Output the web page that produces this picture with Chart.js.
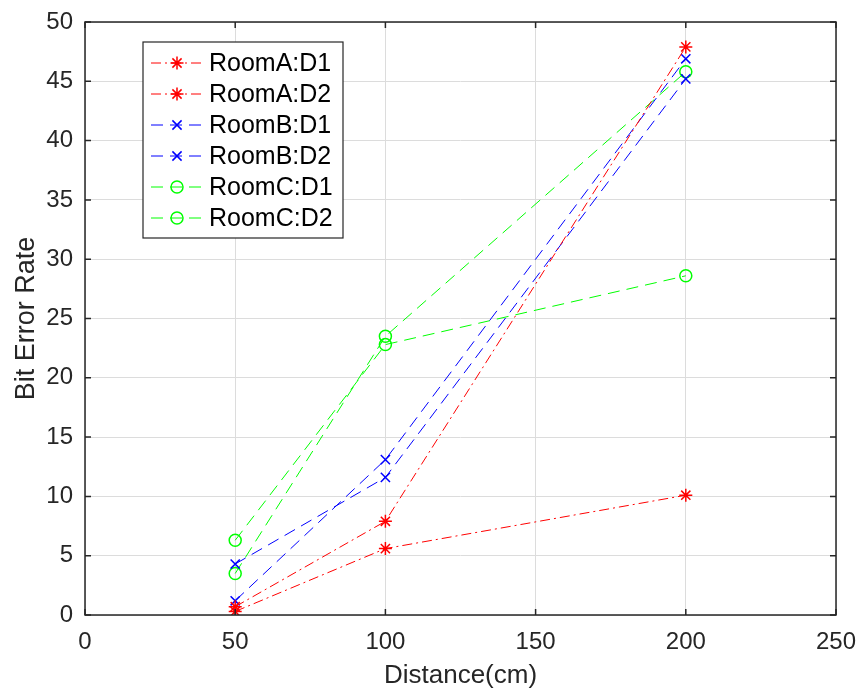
<!DOCTYPE html>
<html>
<head>
<meta charset="utf-8">
<script src="https://cdn.jsdelivr.net/npm/chart.js@4/dist/chart.umd.min.js"></script>
<style>
  body { margin: 0; background: #fff; }
  #wrap { width: 863px; height: 691px; }
</style>
</head>
<body>
<div id="wrap"><canvas id="chart1Canvas" width="863" height="691"></canvas></div>
<script>
// distances on x axis (cm)
const distances = [50, 100, 200];
// bit error rate for each room / device
const roomA_D1 = [0.7, 7.9, 47.9];
const roomA_D2 = [0.3, 5.6, 10.1];
const roomB_D1 = [4.3, 11.6, 45.2];
const roomB_D2 = [1.2, 13.1, 46.9];
const roomC_D1 = [6.3, 22.8, 28.6];
const roomC_D2 = [3.5, 23.5, 45.8];
const seriesLabels = ['RoomA:D1', 'RoomA:D2', 'RoomB:D1', 'RoomB:D2', 'RoomC:D1', 'RoomC:D2'];
const xTicks = [0, 50, 100, 150, 200, 250];
const yTicks = [0, 5, 10, 15, 20, 25, 30, 35, 40, 45, 50];

const FONT = '"Liberation Sans", Arial, Helvetica, sans-serif';
const RED = '#ff0000', BLUE = '#0000ff', GREEN = '#00ff00';

function series(label, vals, color, dash, marker, radius) {
  return {
    label: label,
    data: distances.map((d, i) => ({ x: d, y: vals[i] })),
    borderColor: color,
    backgroundColor: 'rgba(0,0,0,0)',
    borderWidth: 1,
    borderDash: dash,
    pointStyle: marker,
    pointRadius: radius,
    pointBorderColor: color,
    pointBorderWidth: 1.5,
    pointBackgroundColor: 'rgba(0,0,0,0)',
    tension: 0
  };
}

const dashDot = [10, 4, 2, 4];
const dashed = [12, 7];

// frame, inward ticks and the boxed legend like matlab
const matlabAxes = {
  id: 'matlabAxes',
  afterDraw(chart) {
    const ctx = chart.ctx;
    const a = chart.chartArea;
    const xs = chart.scales.x, ys = chart.scales.y;
    ctx.save();
    ctx.strokeStyle = '#262626';
    ctx.lineWidth = 1.5;
    ctx.strokeRect(a.left, a.top, a.right - a.left, a.bottom - a.top);
    ctx.beginPath();
    const tl = 6;
    xTicks.forEach(v => {
      const px = xs.getPixelForValue(v);
      ctx.moveTo(px, a.bottom); ctx.lineTo(px, a.bottom - tl);
      ctx.moveTo(px, a.top); ctx.lineTo(px, a.top + tl);
    });
    yTicks.forEach(v => {
      const py = ys.getPixelForValue(v);
      ctx.moveTo(a.left, py); ctx.lineTo(a.left + tl, py);
      ctx.moveTo(a.right, py); ctx.lineTo(a.right - tl, py);
    });
    ctx.stroke();

    // legend box
    const lx = 143, ly = 42, lw = 200, rowH = 31;
    const n = chart.data.datasets.length;
    const lh = rowH * n + 10;
    ctx.fillStyle = '#fff';
    ctx.fillRect(lx, ly, lw, lh);
    ctx.lineWidth = 1.2;
    ctx.strokeStyle = '#262626';
    ctx.strokeRect(lx, ly, lw, lh);
    chart.data.datasets.forEach((ds, i) => {
      const cy = ly + 21 + i * rowH;
      ctx.strokeStyle = ds.borderColor;
      ctx.lineWidth = 1;
      ctx.setLineDash(ds.borderDash);
      ctx.beginPath();
      ctx.moveTo(151, cy); ctx.lineTo(202, cy);
      ctx.stroke();
      ctx.setLineDash([]);
      drawMarker(ctx, ds.pointStyle, 177, cy, ds.pointRadius, ds.borderColor);
      ctx.fillStyle = '#000';
      ctx.font = '25px ' + FONT;
      ctx.textBaseline = 'middle';
      ctx.textAlign = 'left';
      ctx.fillText(ds.label, 209, cy + 1);
    });
    ctx.restore();
  }
};

function drawMarker(ctx, style, x, y, r, color) {
  ctx.save();
  ctx.strokeStyle = color;
  ctx.lineWidth = 1.5;
  ctx.beginPath();
  if (style === 'circle') {
    ctx.arc(x, y, r, 0, Math.PI * 2);
  } else if (style === 'crossRot') {
    const d = r * 0.7071;
    ctx.moveTo(x - d, y - d); ctx.lineTo(x + d, y + d);
    ctx.moveTo(x + d, y - d); ctx.lineTo(x - d, y + d);
  } else {
    for (let k = 0; k < 4; k++) {
      const ang = k * Math.PI / 4;
      ctx.moveTo(x - r * Math.cos(ang), y - r * Math.sin(ang));
      ctx.lineTo(x + r * Math.cos(ang), y + r * Math.sin(ang));
    }
  }
  ctx.stroke();
  ctx.restore();
}

var ctx = document.getElementById('chart1Canvas').getContext('2d');
var myChart = new Chart(ctx, {
  type: 'line',
  data: {
    datasets: [
      series(seriesLabels[0], roomA_D1, RED, dashDot, 'star', 6.5),
      series(seriesLabels[1], roomA_D2, RED, dashDot, 'star', 6.5),
      series(seriesLabels[2], roomB_D1, BLUE, dashed, 'crossRot', 6.5),
      series(seriesLabels[3], roomB_D2, BLUE, dashed, 'crossRot', 6.5),
      series(seriesLabels[4], roomC_D1, GREEN, dashed, 'circle', 6),
      series(seriesLabels[5], roomC_D2, GREEN, dashed, 'circle', 6)
    ]
  },
  options: {
    responsive: false,
    animation: false,
    layout: { padding: { left: 0, right: 27, top: 22, bottom: 0 } },
    plugins: {
      legend: { display: false },
      tooltip: { enabled: false }
    },
    scales: {
      x: {
        type: 'linear',
        min: 0, max: 250,
        afterBuildTicks: s => { s.ticks = xTicks.map(v => ({ value: v })); },
        afterFit: s => { s.height = 76; s.paddingLeft = 0; s.paddingRight = 0; },
        grid: { color: '#dcdcdc', lineWidth: 1, drawTicks: false },
        border: { display: false },
        ticks: { color: '#262626', padding: 13, font: { size: 24, family: FONT } },
        title: { display: true, text: 'Distance(cm)', color: '#262626', font: { size: 26, family: FONT }, padding: { top: 4, bottom: 0 } }
      },
      y: {
        type: 'linear',
        min: 0, max: 50,
        afterBuildTicks: s => { s.ticks = yTicks.map(v => ({ value: v })); },
        afterFit: s => { s.width = 85; s.paddingTop = 0; s.paddingBottom = 0; },
        grid: { color: '#dcdcdc', lineWidth: 1, drawTicks: false },
        border: { display: false },
        ticks: { color: '#262626', padding: 12, font: { size: 24, family: FONT } },
        title: { display: true, text: 'Bit Error Rate', color: '#262626', font: { size: 27, family: FONT }, padding: { top: 10, bottom: 0 } }
      }
    }
  },
  plugins: [matlabAxes]
});
</script>
</body>
</html>
